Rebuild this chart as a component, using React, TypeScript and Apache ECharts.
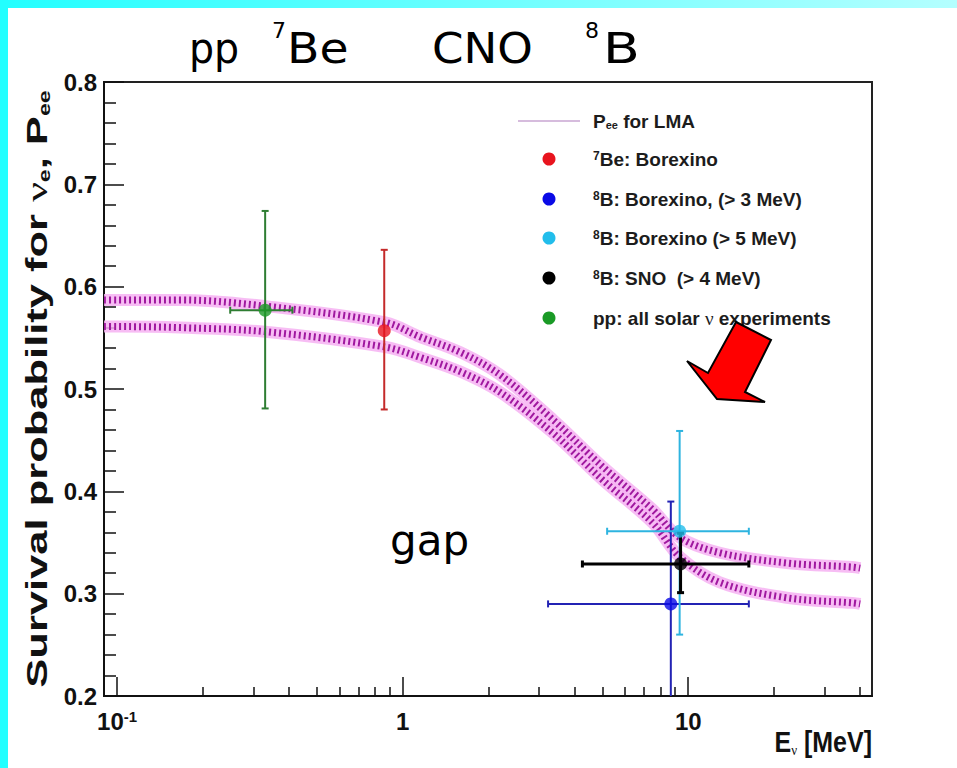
import React, { useEffect, useRef } from "react";
import * as echarts from "echarts";

// ---- axes ----
const X_MIN_MEV = 0.09;
const X_MAX_MEV = 44;
const Y_MIN = 0.2;
const Y_MAX = 0.8;
const Y_STEP = 0.1;
const X_MAJOR_TICKS = [0.1, 1, 10];
const X_MINOR_TICKS = [0.2, 0.3, 0.4, 0.5, 0.6, 0.7, 0.8, 0.9, 2, 3, 4, 5, 6, 7, 8, 9, 20, 30, 40];

// ---- LMA Pee band (two hatched curves) ----
const bandEnergy = [0.09, 0.1, 0.167, 0.33, 0.87, 1.15, 1.59, 2.19, 3.36, 5.02, 7.52, 9.33, 12.9, 22.1, 37.6, 40];
const bandUpper = [0.587, 0.587, 0.587, 0.581, 0.565, 0.551, 0.536, 0.514, 0.47, 0.424, 0.382, 0.355, 0.34, 0.33, 0.326, 0.325];
const bandLower = [0.561, 0.561, 0.56, 0.556, 0.541, 0.531, 0.517, 0.497, 0.457, 0.411, 0.369, 0.336, 0.311, 0.296, 0.291, 0.29];

// ---- measurements ----
const measName = ["7Be: Borexino", "8B: Borexino (> 3 MeV)", "8B: Borexino (> 5 MeV)", "8B: SNO (> 4 MeV)", "pp: all solar"];
const measEnergy = [0.862, 8.69, 9.33, 9.4, 0.33];
const measP = [0.557, 0.29, 0.361, 0.329, 0.577];
const measPLow = [0.48, 0.1, 0.26, 0.301, 0.481];
const measPHigh = [0.636, 0.39, 0.459, 0.359, 0.674];
const measELow: (number | null)[] = [null, 3.23, 5.2, 4.26, 0.249];
const measEHigh: (number | null)[] = [null, 16.3, 16.3, 16.3, 0.411];
const measDotColor = ["#E8141E", "#0A0AE6", "#22BDEB", "#000000", "#1A9A26"];
const measLineColor = ["#C42A2A", "#2323B4", "#2EB4E0", "#000000", "#2E7D32"];
const measLineWidth = [2, 2, 2, 3, 2];

// ---- legend ----
const legendLabels = [
  "P{sub|ee} for LMA",
  "{sup|7}Be: Borexino",
  "{sup|8}B: Borexino, (> 3 MeV)",
  "{sup|8}B: Borexino (> 5 MeV)",
  "{sup|8}B: SNO  (> 4 MeV)",
  "pp: all solar {nu|ν} experiments",
];
const legendDotColor = [null, "#E8141E", "#0A0AE6", "#22BDEB", "#000000", "#1A9A26"];

const FONT = "Liberation Sans, Arial, Helvetica, sans-serif";
const lg = (v: number) => Math.log10(v);

export default function App() {
  const ref = useRef<HTMLDivElement>(null);
  useEffect(() => {
    if (!ref.current) return;
    const chart = echarts.init(ref.current, undefined, { renderer: "svg" });

    const bandSeries = (vals: number[]) => [
      {
        type: "line",
        data: bandEnergy.map((e, i) => [lg(e), vals[i]]),
        smooth: 0.35,
        showSymbol: false,
        silent: true,
        z: 1,
        lineStyle: { color: "#F6B2F2", width: 12, opacity: 0.85 },
      },
      {
        type: "line",
        data: bandEnergy.map((e, i) => [lg(e), vals[i]]),
        smooth: 0.35,
        showSymbol: false,
        silent: true,
        z: 2,
        lineStyle: { color: "#A0189F", width: 7, type: [2, 3] },
      },
    ];

    const errData = measEnergy.map((e, i) => [
      lg(e),
      measP[i],
      lg(measELow[i] ?? e),
      lg(measEHigh[i] ?? e),
      measPLow[i],
      measPHigh[i],
    ]);

    const legendGraphics: any[] = [];
    const legendY = [121, 159, 199, 238, 278, 318];
    legendLabels.forEach((t, i) => {
      const y = legendY[i];
      if (i === 0) {
        legendGraphics.push({
          type: "line",
          shape: { x1: 518, y1: y, x2: 580, y2: y },
          style: { stroke: "#C9A6D2", lineWidth: 1.5 },
        });
      } else {
        legendGraphics.push({
          type: "circle",
          shape: { cx: 549, cy: y, r: 6.5 },
          style: { fill: legendDotColor[i] as string },
        });
      }
      legendGraphics.push({
        type: "text",
        x: 593,
        y,
        style: {
          text: t,
          fontSize: 19,
          fontWeight: "bold",
          fontFamily: FONT,
          fill: "#1c1c1c",
          verticalAlign: "middle",
          rich: {
            sup: { fontSize: 12, fontWeight: "bold", fontFamily: FONT, verticalAlign: "top", fill: "#1c1c1c" },
            sub: { fontSize: 11, fontWeight: "bold", fontFamily: FONT, verticalAlign: "bottom", fill: "#1c1c1c" },
            nu: { fontSize: 19, fontWeight: "normal", fontFamily: "Liberation Serif, serif", fill: "#1c1c1c" },
          },
        },
      });
    });

    const topFont = "DejaVu Sans, sans-serif";
    const topText = (text: string, x: number, y: number, size: number, sx = 1) => ({
      type: "text",
      x,
      y,
      scaleX: sx,
      style: { text, fontSize: size, fontFamily: topFont, fill: "#000", verticalAlign: "middle" },
    });

    const option: any = {
      animation: false,
      backgroundColor: "#ffffff",
      grid: {
        left: 104,
        top: 82,
        width: 768,
        height: 614,
        show: true,
        borderColor: "#222",
        borderWidth: 2,
        containLabel: false,
        outerBoundsMode: "none",
      },
      xAxis: [
        {
          type: "value",
          min: lg(X_MIN_MEV),
          max: lg(X_MAX_MEV),
          position: "bottom",
          axisLine: { show: true, onZero: false, lineStyle: { color: "#111", width: 2 } },
          axisTick: {
            show: true,
            inside: true,
            length: 19,
            customValues: X_MAJOR_TICKS.map(lg),
            lineStyle: { color: "#111", width: 1.5 },
          },
          axisLabel: {
            customValues: X_MAJOR_TICKS.map(lg),
            fontSize: 24,
            fontWeight: "bold",
            fontFamily: FONT,
            color: "#111",
            margin: 13,
            formatter: (v: number) => {
              const r = Math.round(v);
              return r < 0 ? "10{sup|" + r + "}" : String(Math.pow(10, r));
            },
            rich: {
              sup: { fontSize: 15, fontWeight: "bold", fontFamily: FONT, color: "#111", verticalAlign: "top" },
            },
          },
          splitLine: { show: false },
        },
        {
          type: "value",
          min: lg(X_MIN_MEV),
          max: lg(X_MAX_MEV),
          position: "bottom",
          axisLine: { show: false, onZero: false },
          axisTick: {
            show: true,
            inside: true,
            length: 9,
            customValues: X_MINOR_TICKS.map(lg),
            lineStyle: { color: "#111", width: 1.5 },
          },
          axisLabel: { show: false },
          splitLine: { show: false },
        },
      ],
      yAxis: {
        type: "value",
        min: Y_MIN,
        max: Y_MAX,
        interval: Y_STEP,
        axisLine: { show: true, onZero: false, lineStyle: { color: "#111", width: 2 } },
        axisTick: { show: true, inside: true, length: 20, lineStyle: { color: "#111", width: 1.5 } },
        minorTick: { show: true, splitNumber: 5, length: 12, lineStyle: { color: "#111", width: 1.5 } },
        splitLine: { show: false },
        minorSplitLine: { show: false },
        axisLabel: {
          formatter: (v: number) => v.toFixed(1),
          fontSize: 24,
          fontWeight: "bold",
          fontFamily: FONT,
          color: "#111",
          margin: 7,
        },
      },
      series: [
        ...bandSeries(bandUpper),
        ...bandSeries(bandLower),
        {
          type: "custom",
          name: "errors",
          clip: true,
          z: 3,
          encode: { x: 0, y: 1 },
          data: errData,
          renderItem: (params: any, api: any) => {
            const i = params.dataIndex;
            const cx = api.value(0);
            const cy = api.value(1);
            const xl = api.value(2);
            const xh = api.value(3);
            const yl = api.value(4);
            const yh = api.value(5);
            const c = api.coord([cx, cy]);
            const top = api.coord([cx, yh]);
            const bot = api.coord([cx, yl]);
            const st = { stroke: measLineColor[i], lineWidth: measLineWidth[i] };
            const cap = 3.5;
            const ch: any[] = [
              { type: "line", shape: { x1: c[0], y1: top[1], x2: c[0], y2: bot[1] }, style: st },
              { type: "line", shape: { x1: c[0] - cap, y1: top[1], x2: c[0] + cap, y2: top[1] }, style: st },
              { type: "line", shape: { x1: c[0] - cap, y1: bot[1], x2: c[0] + cap, y2: bot[1] }, style: st },
            ];
            if (xh > xl) {
              const l = api.coord([xl, cy]);
              const r = api.coord([xh, cy]);
              ch.push(
                { type: "line", shape: { x1: l[0], y1: c[1], x2: r[0], y2: c[1] }, style: st },
                { type: "line", shape: { x1: l[0], y1: c[1] - cap, x2: l[0], y2: c[1] + cap }, style: st },
                { type: "line", shape: { x1: r[0], y1: c[1] - cap, x2: r[0], y2: c[1] + cap }, style: st }
              );
            }
            return { type: "group", children: ch };
          },
        },
        {
          type: "scatter",
          z: 4,
          symbol: "circle",
          symbolSize: 13,
          data: measEnergy.map((e, i) => ({
            name: measName[i],
            value: [lg(e), measP[i]],
            itemStyle: { color: measDotColor[i] },
          })),
        },
      ],
      graphic: [
        {
          type: "rect",
          shape: { x: 0, y: 0, width: 957, height: 8 },
          style: {
            fill: new echarts.graphic.LinearGradient(0, 0, 1, 0, [
              { offset: 0, color: "#22FFFF" },
              { offset: 1, color: "#B4FFFF" },
            ]),
          },
          z: 10,
        },
        { type: "rect", shape: { x: 0, y: 0, width: 8, height: 768 }, style: { fill: "#22FFFF" }, z: 10 },
        // top region labels
        topText("pp", 189, 48, 43, 0.92),
        topText("7", 272, 30, 22, 1),
        topText("Be", 287, 48, 43, 1.1),
        topText("CNO", 432, 48, 43, 1.05),
        topText("8", 585, 30, 22, 1),
        topText("B", 603, 48, 43, 1.25),
        topText("gap", 390, 540, 42, 1),
        // red arrow
        {
          type: "polygon",
          z: 20,
          shape: {
            points: [
              [736, 322],
              [771, 340],
              [745, 392],
              [765, 402],
              [717, 399],
              [687, 361],
              [708, 373],
            ],
          },
          style: { fill: "#FF0000", stroke: "#000", lineWidth: 2 },
        },
        // y axis title
        {
          type: "text",
          x: 37,
          y: 389,
          rotation: Math.PI / 2,
          scaleX: 1.45,
          style: {
            text: "Survival probability for {nu|ν}{sub|e}, P{sub|ee}",
            fontSize: 30,
            fontWeight: "bold",
            fontFamily: FONT,
            fill: "#111",
            align: "center",
            verticalAlign: "middle",
            rich: {
              nu: { fontSize: 30, fontWeight: "normal", fontFamily: "Liberation Serif, serif", fill: "#111" },
              sub: { fontSize: 16, fontWeight: "bold", fontFamily: FONT, verticalAlign: "bottom", fill: "#111" },
            },
          },
        },
        // x axis title
        {
          type: "text",
          x: 872,
          y: 742,
          scaleY: 1.2,
          style: {
            text: "E{sub|ν} [MeV]",
            fontSize: 25,
            fontWeight: "bold",
            fontFamily: FONT,
            fill: "#111",
            align: "right",
            verticalAlign: "middle",
            rich: {
              sub: { fontSize: 13, fontWeight: "normal", fontFamily: "Liberation Serif, serif", verticalAlign: "bottom", fill: "#111" },
            },
          },
        },
        ...legendGraphics,
      ],
    };
    chart.setOption(option);
    return () => chart.dispose();
  }, []);
  return (
    <div
      ref={ref}
      style={{ position: "fixed", left: 0, top: 0, width: 957, height: 768, background: "#fff" }}
    />
  );
}
